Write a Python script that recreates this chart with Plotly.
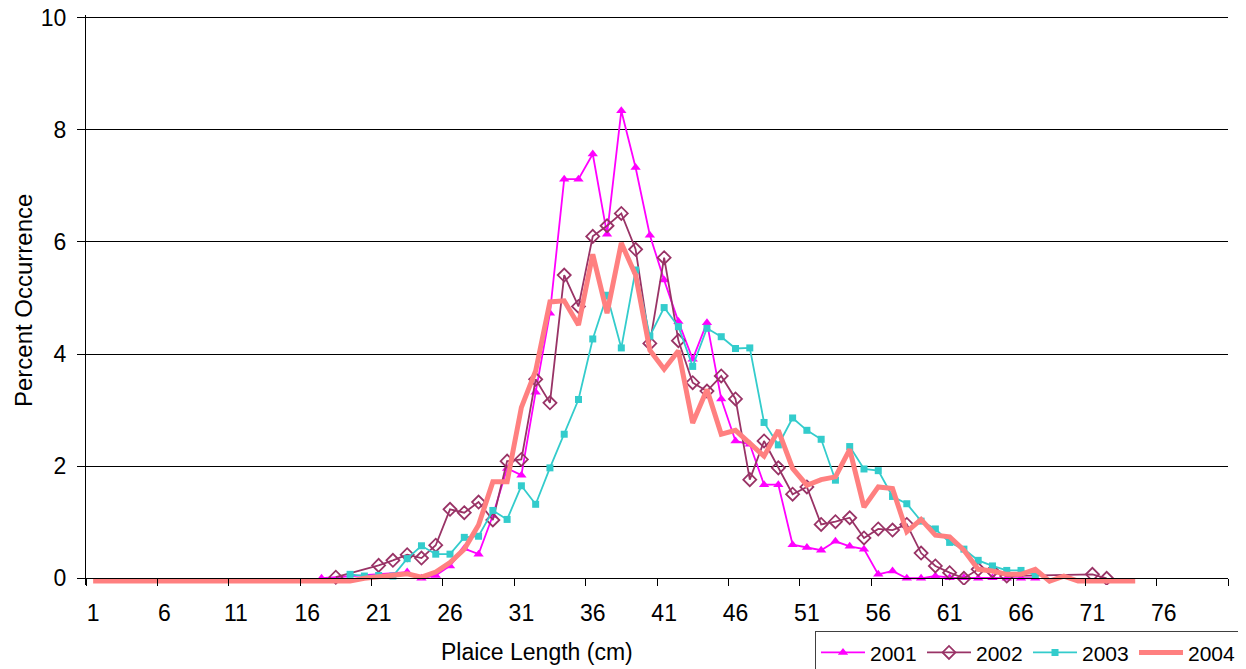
import plotly.graph_objects as go

# ---------------- data ----------------
categories = list(range(1, 81))

# 2001 starts at length 17 (None = not visible in the picture)
y2001 = {17: 0.0, 18: None, 19: None, 20: None, 21: None, 22: None,
         23: 0.11, 24: 0.0, 25: 0.05, 26: 0.22, 27: 0.53, 28: 0.43, 29: 1.12, 30: 1.96,
         31: 1.84, 32: 3.32, 33: 4.73, 34: 7.12, 35: 7.12, 36: 7.57, 37: 6.14, 38: 8.34,
         39: 7.33, 40: 6.12, 41: 5.32, 42: 4.58, 43: 3.91, 44: 4.56, 45: 3.2, 46: 2.45,
         47: 2.39, 48: 1.67, 49: 1.67, 50: 0.6, 51: 0.55, 52: 0.5, 53: 0.66, 54: 0.57,
         55: 0.52, 56: 0.07, 57: 0.13, 58: 0.0, 59: 0.0, 60: 0.04, 61: 0.01, 62: 0.01,
         63: 0.0, 64: 0.01, 65: 0.0, 66: 0.0, 67: 0.0}

y2002 = {18: 0.02, 19: None, 20: None, 21: 0.23, 22: 0.32, 23: 0.42, 24: 0.36, 25: 0.59,
         26: 1.23, 27: 1.17, 28: 1.36, 29: 1.04, 30: 2.09, 31: 2.12, 32: 3.55, 33: 3.13,
         34: 5.41, 35: 4.85, 36: 6.1, 37: 6.29, 38: 6.51, 39: 5.87, 40: 4.19, 41: 5.72,
         42: 4.24, 43: 3.49, 44: 3.34, 45: 3.61, 46: 3.2, 47: 1.76, 48: 2.45, 49: 1.97,
         50: 1.5, 51: 1.63, 52: 0.96, 53: 1.01, 54: 1.08, 55: 0.72, 56: 0.88, 57: 0.86,
         58: 0.96, 59: 0.45, 60: 0.22, 61: 0.1, 62: 0.0, 63: 0.16, 64: 0.13, 65: 0.04,
         66: None, 67: None, 68: None, 69: None, 70: None, 71: 0.07, 72: 0.0}

y2003 = {19: 0.07, 20: 0.04, 21: 0.05, 22: 0.04, 23: 0.35, 24: 0.58, 25: 0.43, 26: 0.43,
         27: 0.73, 28: 0.75, 29: 1.21, 30: 1.05, 31: 1.65, 32: 1.32, 33: 1.97, 34: 2.57,
         35: 3.19, 36: 4.27, 37: 5.05, 38: 4.11, 39: 5.5, 40: 4.32, 41: 4.83, 42: 4.49,
         43: 3.78, 44: 4.46, 45: 4.31, 46: 4.1, 47: 4.11, 48: 2.78, 49: 2.38, 50: 2.86,
         51: 2.64, 52: 2.48, 53: 1.75, 54: 2.35, 55: 1.95, 56: 1.92, 57: 1.46, 58: 1.33,
         59: 1.02, 60: 0.88, 61: 0.64, 62: 0.52, 63: 0.32, 64: 0.22, 65: 0.14, 66: 0.14,
         67: 0.06}

y2004 = {1: -0.05, 2: -0.05, 3: -0.05, 4: -0.05, 5: -0.05, 6: -0.05, 7: -0.05, 8: -0.05,
         9: -0.05, 10: -0.05, 11: -0.05, 12: -0.05, 13: -0.05, 14: -0.05, 15: -0.05,
         16: -0.05, 17: -0.05, 18: -0.05, 19: -0.05, 20: 0.0, 21: 0.02, 22: 0.04, 23: 0.08,
         24: 0.02, 25: 0.11, 26: 0.28, 27: 0.52, 28: 0.95, 29: 1.72, 30: 1.72, 31: 3.05,
         32: 3.7, 33: 4.93, 34: 4.95, 35: 4.52, 36: 5.78, 37: 4.73, 38: 5.98, 39: 5.41,
         40: 4.07, 41: 3.73, 42: 4.06, 43: 2.77, 44: 3.37, 45: 2.57, 46: 2.64, 47: 2.4,
         48: 2.18, 49: 2.64, 50: 1.96, 51: 1.66, 52: 1.76, 53: 1.81, 54: 2.3, 55: 1.27,
         56: 1.63, 57: 1.6, 58: 0.83, 59: 1.05, 60: 0.77, 61: 0.74, 62: 0.5, 63: 0.16,
         64: 0.13, 65: 0.07, 66: 0.07, 67: 0.16, 68: -0.05, 69: 0.04, 70: -0.05, 71: -0.05,
         72: -0.05, 73: -0.05, 74: -0.05}

x_tick_labels = [str(v) for v in range(1, 80, 5)]
y_tick_values = [0, 2, 4, 6, 8, 10]

# ---------------- figure ----------------
FONT = "Liberation Sans, Arial, sans-serif"
OFF = 8                      # page body margin in the browser
W, H = 1246 - OFF, 669 - OFF
YMIN, YMAX = -0.12, 10.05
PX_PER_UNIT = 56.0
L = 86 - OFF
T = round(18 - OFF - (YMAX - 10) * PX_PER_UNIT, 2)
R = W - (1228 - OFF)
plot_h = (YMAX - YMIN) * PX_PER_UNIT
B = H - T - plot_h
pw = W - L - R
zero_pos = (0 - YMIN) * PX_PER_UNIT / plot_h


def paper_x(sx):
    return (sx - OFF - L) / pw


def paper_y(sy):
    return (T + plot_h - (sy - OFF)) / plot_h


fig = go.Figure()


def add(series, name, color, width, marker=None):
    xs = list(series.keys())
    ys = list(series.values())
    kw = dict(x=xs, y=ys, name=name, connectgaps=True,
              line=dict(color=color, width=width))
    if marker:
        kw["mode"] = "lines+markers"
        kw["marker"] = marker
    else:
        kw["mode"] = "lines"
    fig.add_trace(go.Scatter(**kw))


add(y2001, "2001", "#FF00FF", 1.8,
    dict(symbol="triangle-up", size=9, color="#FF00FF"))
add(y2002, "2002", "#993366", 1.8,
    dict(symbol="diamond-open", size=10, color="#993366", line=dict(width=1.8, color="#993366")))
add(y2003, "2003", "#33CCCC", 1.8,
    dict(symbol="square", size=7, color="#33CCCC"))
add(y2004, "2004", "#FF8080", 5)

fig.update_layout(
    width=W, height=H,
    margin=dict(l=L, r=R, t=T, b=B, autoexpand=False),
    paper_bgcolor="white", plot_bgcolor="white",
    font=dict(family=FONT, size=21, color="black"),
    showlegend=True,
    legend=dict(orientation="h", x=paper_x(815), xanchor="left",
                y=paper_y(631), yanchor="top",
                bgcolor="white", bordercolor="#404040", borderwidth=1,
                font=dict(family=FONT, size=21), itemwidth=44, entrywidth=47,
                traceorder="normal"),
    xaxis=dict(range=[0.5, 80.5], anchor="free", position=zero_pos,
               tickmode="array", tickvals=list(range(1, 80, 5)), ticktext=x_tick_labels,
               ticks="", showgrid=False, zeroline=False,
               showline=True, linecolor="black", linewidth=1,
               tickfont=dict(family=FONT, size=23), ticklabelstandoff=14,
               minor=dict(tickmode="array", tickvals=[0.5 + 5 * k for k in range(17)],
                          ticks="outside", ticklen=7, tickcolor="black", tickwidth=1,
                          showgrid=False)),
    yaxis=dict(range=[YMIN, YMAX], tickmode="array", tickvals=y_tick_values,
               ticks="outside", ticklen=8, tickcolor="black",
               showgrid=True, gridcolor="black", gridwidth=1, zeroline=False,
               showline=True, linecolor="black", linewidth=1,
               ticklabeloverflow="allow",
               tickfont=dict(family=FONT, size=23), ticklabelstandoff=6),
    annotations=[
        dict(text="Plaice Length (cm)", x=paper_x(537), y=paper_y(652),
             xref="paper", yref="paper", xanchor="center", yanchor="middle",
             showarrow=False, font=dict(family=FONT, size=23)),
        dict(text="Percent Occurrence", x=paper_x(23), y=paper_y(301), textangle=-90,
             xref="paper", yref="paper", xanchor="center", yanchor="middle",
             showarrow=False, font=dict(family=FONT, size=24)),
    ],
)

fig.write_html("out.html")
